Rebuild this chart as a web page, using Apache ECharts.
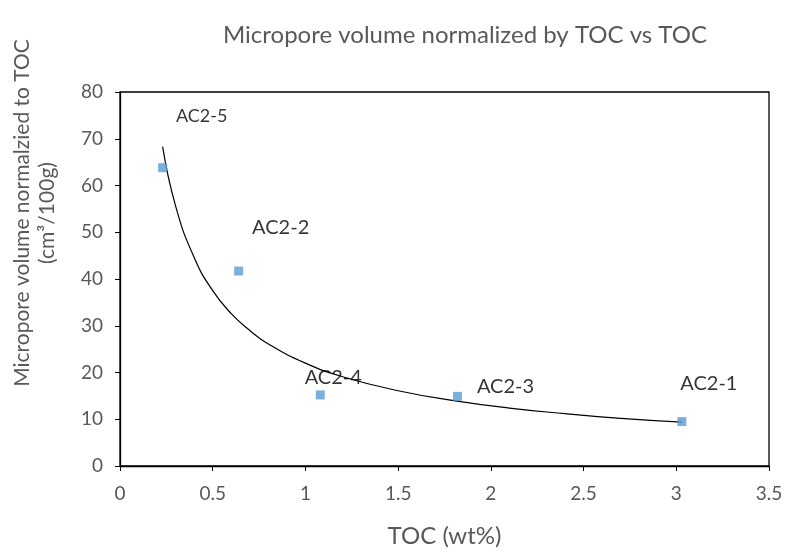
<!DOCTYPE html>
<html>
<head>
<meta charset="utf-8">
<script src="https://cdn.jsdelivr.net/npm/echarts@6/dist/echarts.min.js"></script>
<style>html,body{margin:0;padding:0;background:#fff}#c{width:786px;height:553px}</style>
</head>
<body>
<div id="c"></div>
<script>
// Sample data
var sampleNames = ['AC2-5', 'AC2-2', 'AC2-4', 'AC2-3', 'AC2-1'];
var tocValues = [0.23, 0.64, 1.08, 1.82, 3.03];
var microporeValues = [63.8, 41.7, 15.2, 14.9, 9.5];

// Power trendline
var trendX = [0.23, 0.3, 0.4, 0.5, 0.6, 0.7, 0.8, 1.0, 1.2, 1.5, 1.8, 2.1, 2.4, 2.7, 3.03];
var trendY = [68.3, 55.6, 44.6, 37.5, 32.6, 29.0, 26.1, 22.0, 19.1, 16.1, 14.0, 12.4, 11.2, 10.2, 9.4];

var xTicks = [0, 0.5, 1, 1.5, 2, 2.5, 3, 3.5];
var yTicks = [0, 10, 20, 30, 40, 50, 60, 70, 80];

// label placement (pixels, relative to point)
var labelOffsets = [[39, -52], [42, -44], [13, -17], [48, -10], [27, -38]];
var labelSizes = [18, 20, 20, 20, 20];

var FONT = 'Lato';
var chart = echarts.init(document.getElementById('c'));

var scatterData = tocValues.map(function (x, i) {
  return {
    value: [x, microporeValues[i]],
    name: sampleNames[i],
    label: {
      show: true,
      position: 'inside',
      offset: labelOffsets[i],
      formatter: sampleNames[i],
      color: '#000',
      fontSize: labelSizes[i],
      fontFamily: FONT
    }
  };
});

var trendData = trendX.map(function (x, i) { return [x, trendY[i]]; });

chart.setOption({
  animation: false,
  title: {
    text: 'Micropore volume normalized by TOC vs TOC',
    left: 460, top: 18, textAlign: 'center',
    textStyle: { color: '#595959', fontSize: 24, fontWeight: 'normal', fontFamily: FONT }
  },
  grid: { left: 120, right: 17, top: 92, bottom: 80, show: true, borderColor: '#000', borderWidth: 1.3 },
  xAxis: {
    type: 'value', min: 0, max: 3.5, interval: 0.5,
    name: 'TOC (wt%)', nameLocation: 'middle', nameGap: 58,
    nameTextStyle: { color: '#595959', fontSize: 24, fontFamily: FONT },
    axisLine: { lineStyle: { color: '#000', width: 1.3 } },
    axisTick: { show: true, length: 5, lineStyle: { color: '#000' } },
    axisLabel: { color: '#595959', fontSize: 19, fontFamily: FONT, margin: 18,
      formatter: function (v) { return String(v); } },
    splitLine: { show: false }
  },
  yAxis: {
    type: 'value', min: 0, max: 80, interval: 10,
    axisLine: { show: true, lineStyle: { color: '#000', width: 1.3 } },
    axisTick: { show: true, length: 5, lineStyle: { color: '#000' } },
    axisLabel: { color: '#595959', fontSize: 19, fontFamily: FONT, margin: 17 },
    splitLine: { show: false }
  },
  graphic: [
    { type: 'text', x: 22, y: 213, rotation: Math.PI / 2,
      style: { text: 'Micropore volume normalzied to TOC', fill: '#595959', fontSize: 21, fontFamily: FONT,
        textAlign: 'center', textVerticalAlign: 'middle' } },
    { type: 'text', x: 47, y: 213, rotation: Math.PI / 2,
      style: { text: '(cm³/100g)', fill: '#595959', fontSize: 21, fontFamily: FONT,
        textAlign: 'center', textVerticalAlign: 'middle' } }
  ],
  series: [
    {
      type: 'line', data: trendData, smooth: true, showSymbol: false, symbol: 'none',
      lineStyle: { color: '#000', width: 1.2 }, z: 2, silent: true
    },
    {
      type: 'scatter', data: scatterData, symbol: 'rect', symbolSize: 9,
      itemStyle: { color: '#5B9BD5' }, z: 3
    }
  ]
});
</script>
</body>
</html>
